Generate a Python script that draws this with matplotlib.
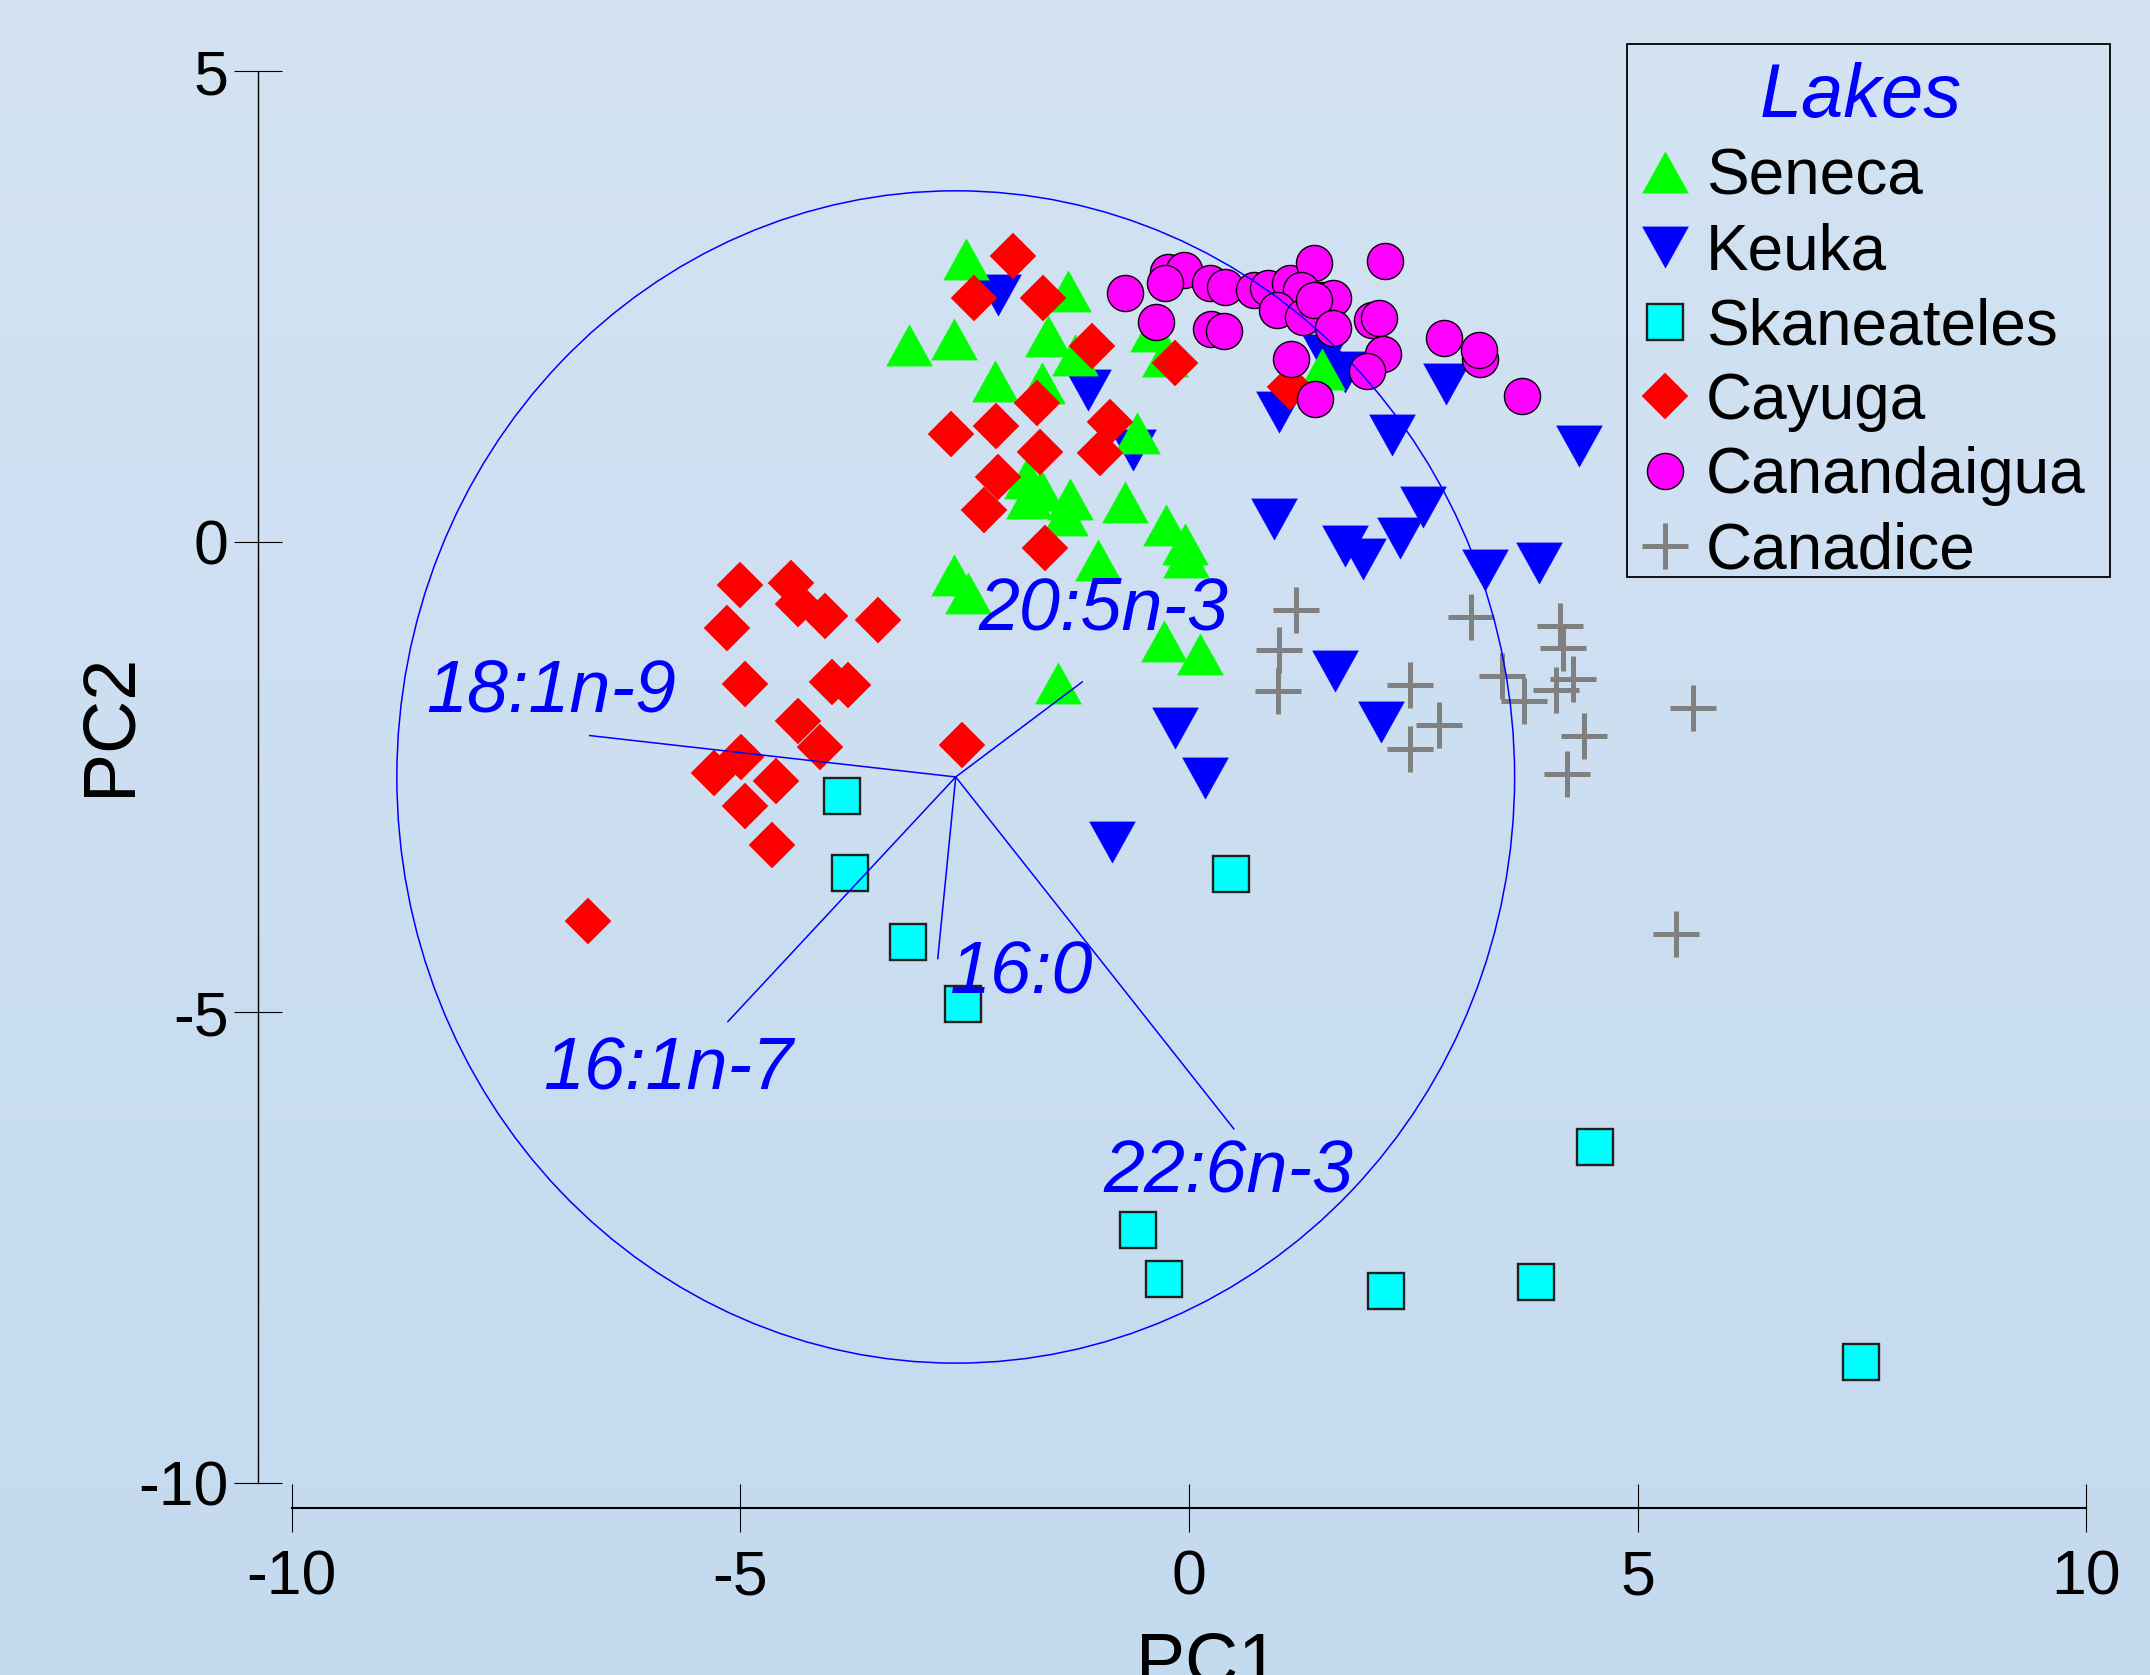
import numpy as np
import matplotlib
matplotlib.use("Agg")
import matplotlib.pyplot as plt
from matplotlib.path import Path
from matplotlib.patches import Circle, Rectangle
from matplotlib.colors import LinearSegmentedColormap

plt.rcParams['font.family'] = ['Liberation Sans', 'DejaVu Sans']
plt.rcParams['axes.unicode_minus'] = False

# PCA scores
seneca_x = [-2.48, -1.35, -3.12, -2.62, -1.57, -1.27, -2.16, -1.64, -0.40, -0.27, -0.58,
            -1.80, -1.78, -1.65, -1.33, -1.38, -0.71, -0.26, -0.04, -0.03, -1.01,
            -2.62, -2.46, -0.28, 0.12, -1.46, 1.48]
seneca_y = [3.00, 2.67, 2.09, 2.16, 2.19, 1.98, 1.71, 1.69, 2.24, 1.97, 1.16,
            0.68, 0.47, 0.55, 0.45, 0.28, 0.42, 0.18, -0.02, -0.16, -0.19,
            -0.35, -0.54, -1.05, -1.19, -1.50, 1.84]

keuka_x = [-2.13, -1.12, -0.62, 1.00, 0.95, 1.52, 1.74, 2.87, 2.26, 4.35, 2.61,
           2.35, 1.74, 1.94, 3.30, 3.90, 1.63, 2.14, -0.16, 0.18, -0.86]
keuka_y = [2.62, 1.61, 0.97, 1.38, 0.24, 1.98, 1.80, 1.68, 1.13, 1.02, 0.37,
           0.04, -0.05, -0.18, -0.30, -0.23, -1.37, -1.92, -1.98, -2.51, -3.19]

skan_x = [-3.87, -3.78, -3.13, -2.52, 0.47, -0.57, -0.28, 2.20, 3.87, 4.53, 7.49]
skan_y = [-2.70, -3.52, -4.25, -4.91, -3.53, -7.32, -7.84, -7.96, -7.87, -6.43, -8.72]

cayuga_x = [-1.96, -2.40, -1.63, -1.08, -0.16, -1.69, -2.65, -2.15, -0.88, -1.66, -0.99,
            -2.13, -2.28, -1.60, 1.13, -5.01, -4.44, -4.36, -4.06, -5.15, -3.47,
            -4.95, -3.98, -3.80, -4.36, -4.11, -4.99, -5.29, -4.60, -4.95, -4.65,
            -6.70, -2.53]
cayuga_y = [3.04, 2.59, 2.59, 2.08, 1.90, 1.47, 1.15, 1.23, 1.27, 0.95, 0.94,
            0.69, 0.34, -0.07, 1.65, -0.46, -0.44, -0.66, -0.79, -0.92, -0.83,
            -1.51, -1.49, -1.52, -1.91, -2.18, -2.29, -2.46, -2.54, -2.81, -3.22,
            -4.03, -2.16]

canand_x = [-0.71, -0.23, -0.06, -0.27, -0.37, 0.23, 0.40, 0.25, 0.39, 0.73, 0.88,
            1.13, 1.39, 1.25, 1.48, 1.61, 0.98, 1.27, 1.39, 1.61, 1.14, 1.40,
            2.19, 2.04, 2.12, 2.16, 1.98, 2.84, 3.24, 3.23, 3.71]
canand_y = [2.64, 2.87, 2.89, 2.75, 2.34, 2.75, 2.71, 2.26, 2.24, 2.68, 2.70,
            2.75, 2.96, 2.68, 2.57, 2.59, 2.46, 2.39, 2.57, 2.27, 1.94, 1.52,
            2.98, 2.36, 2.38, 2.00, 1.81, 2.17, 1.94, 2.04, 1.55]

canad_x = [1.19, 1.00, 0.99, 2.46, 2.79, 2.46, 3.14, 3.49, 3.74, 4.14, 4.17,
           4.28, 4.09, 4.40, 4.21, 5.62, 5.43]
canad_y = [-0.73, -1.15, -1.59, -1.52, -1.95, -2.20, -0.80, -1.43, -1.69, -0.90, -1.13,
           -1.46, -1.58, -2.06, -2.47, -1.77, -4.17]

# loadings (biplot vectors)
origin = (-2.60, -2.50)
load_names = ['18:1n-9', '20:5n-3', '16:1n-7', '16:0', '22:6n-3']
load_x = [-6.68, -1.19, -5.14, -2.80, 0.50]
load_y = [-2.06, -1.49, -5.10, -4.43, -6.24]
lab_x = [-7.11, -0.95, -5.81, -1.87, 0.44]
lab_y = [-1.60, -0.73, -5.61, -4.59, -6.71]
circle_r = 6.23

W, H = 2150, 1675
fig = plt.figure(figsize=(21.5, 16.75), dpi=100)

# background gradient
bg = fig.add_axes([0, 0, 1, 1], zorder=-10)
cmap = LinearSegmentedColormap.from_list('bg', ['#C4DAEF', '#D3E3F2'])
bg.imshow(np.linspace(0, 1, 256).reshape(-1, 1), aspect='auto', cmap=cmap,
          extent=[0, 1, 0, 1], origin='lower')
bg.axis('off')

left, right = 257.8 / W, 2130.9 / W
bottom, top = 1 - 1508 / H, 1 - 43.1 / H
ax = fig.add_axes([left, bottom, right - left, top - bottom])
ax.set_facecolor('none')
ax.set_xlim(-10.38, 10.5)
ax.set_ylim(-10.27, 5.3)

tri_up = Path([(-1, -0.9), (1, -0.9), (0, 0.9), (-1, -0.9)], closed=True)
tri_dn = Path([(-1, 0.9), (1, 0.9), (0, -0.9), (-1, 0.9)], closed=True)

hC, = ax.plot(canad_x, canad_y, ls='none', marker='+', ms=33, mew=3.6,
              color='#808080', label='Canadice')
hS, = ax.plot(skan_x, skan_y, ls='none', marker='s', ms=26, mfc='#00FFFF',
              mec='#202020', mew=1.7, label='Skaneateles')
hB, = ax.plot(keuka_x, keuka_y, ls='none', marker=tri_dn, ms=33, mfc='#0000FF',
              mec='#0000FF', mew=0.3, label='Keuka')
hG, = ax.plot(seneca_x, seneca_y, ls='none', marker=tri_up, ms=33, mfc='#00FF00',
              mec='#00FF00', mew=0.3, label='Seneca')
hR, = ax.plot(cayuga_x, cayuga_y, ls='none', marker='D', ms=23, mfc='#FF0000',
              mec='#FF0000', mew=0.3, label='Cayuga')
hM, = ax.plot(canand_x, canand_y, ls='none', marker='o', ms=26, mfc='#FF00FF',
              mec='black', mew=1.0, label='Canandaigua')

# biplot vectors and circle
for lx, ly, tx, ty, name in zip(load_x, load_y, lab_x, lab_y, load_names):
    ax.plot([origin[0], lx], [origin[1], ly], color='#0000FF', lw=1.1, zorder=5)
    ax.text(tx, ty, name, color='#0000FF', fontsize=53, style='italic',
            ha='center', va='center', zorder=6)
ax.add_patch(Circle(origin, circle_r, fill=False, ec='#0000FF', lw=1.1, zorder=5))

# axes styling
for s in ['top', 'right']:
    ax.spines[s].set_visible(False)
ax.spines['left'].set_bounds(-10, 5)
ax.spines['bottom'].set_bounds(-10, 10)
ax.spines['left'].set_linewidth(1.0)
ax.spines['bottom'].set_linewidth(1.5)
ax.set_xticks([-10, -5, 0, 5, 10])
ax.set_yticks([-10, -5, 0, 5])
ax.tick_params(direction='inout', length=34, width=0.8, labelsize=45)
ax.tick_params(axis='x', pad=12)
ax.tick_params(axis='y', pad=4)

fig.text(110 / W, 1 - 724 / H, 'PC2', rotation=90, ha='center', va='center', fontsize=53)
fig.text(1208 / W, 1 - 1684 / H, 'PC1', ha='center', va='baseline', fontsize=53)

# legend
handles = [hG, hB, hS, hR, hM, hC]
leg = fig.legend(handles, [h.get_label() for h in handles], loc='upper left',
                 bbox_to_anchor=(1627 / W, 1 - 53 / H), frameon=False,
                 title='Lakes', fontsize=46,
                 title_fontproperties={'size': 54.5, 'style': 'italic'},
                 borderpad=0.14, handlelength=0.9, handletextpad=0.2,
                 labelspacing=0.23, borderaxespad=0, numpoints=1)
leg.get_title().set_color('#0000FF')
fig.add_artist(Rectangle((1627 / W, 1 - 577 / H), (2110 - 1627) / W, (577 - 44) / H,
                         transform=fig.transFigure, fill=False, ec='black', lw=1.3))

fig.savefig('out.png', dpi=100)
